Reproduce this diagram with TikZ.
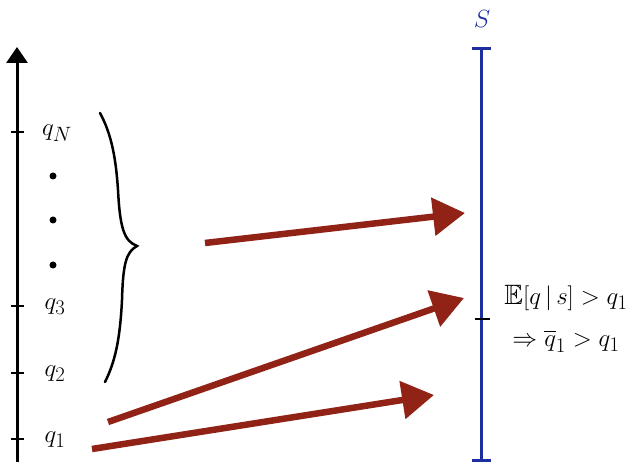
\documentclass[tikz,border=0pt]{standalone}
\usepackage{amssymb}
\usetikzlibrary{arrows.meta}
\definecolor{redarrow}{RGB}{145,34,22}
\definecolor{blueaxis}{RGB}{30,45,160}
\tikzset{
  axisline/.style={line width=3pt, black},
  tickmark/.style={line width=2.5pt, black},
  bigarrow/.style={line width=6.5pt, redarrow, -{Triangle[length=32pt,width=37pt]}},
  lab/.style={font=\fontsize{28}{32}\selectfont, inner sep=0pt},
  dotmark/.style={circle, fill=black, inner sep=0pt, minimum size=7pt}
}
\begin{document}
\begin{tikzpicture}[x=1pt,y=-1pt]
\useasboundingbox (0,0) rectangle (634,462);
% left axis
\coordinate (axbot) at (17,465);
\coordinate (axtop) at (17,47);
\draw[axisline, -{Triangle[length=16pt,width=21pt]}] (axbot) -- (axtop);
\foreach \y/\n in {132/N,306/3,373/2,439/1}{
  \coordinate (t\n l) at (11,\y);
  \coordinate (t\n r) at (24,\y);
  \draw[tickmark] (t\n l) -- (t\n r);
}
\node[lab] (qN) at (57,133) {$q_N$};
\node[lab] (q3) at (55,307) {$q_3$};
\node[lab] (q2) at (55,374) {$q_2$};
\node[lab] (q1) at (55,440) {$q_1$};
\node[dotmark] (d1) at (53,176) {};
\node[dotmark] (d2) at (53,220) {};
\node[dotmark] (d3) at (53,265) {};
% brace
\draw[line width=2.5pt, line cap=round] (100,113) .. controls (112,135) and (116,160) .. (118,190)
  .. controls (120,228) and (124,241) .. (137,246)
  .. controls (126,252) and (123,264) .. (122,300)
  .. controls (120,340) and (115,362) .. (105,382);
% blue axis
\coordinate (btop) at (481,49);
\coordinate (bbot) at (481,460);
\draw[line width=3pt, blueaxis] (btop) -- (bbot);
\draw[line width=3pt, blueaxis] (472,49) -- (491,49);
\draw[line width=3pt, blueaxis] (472,460) -- (491,460);
\draw[tickmark] (475,319) -- (490,319);
\node[lab, text=blueaxis] (S) at (482,19) {$S$};
\node[lab] (l1) at (566,298) {$\mathbb{E}[q\,|\,s] > q_1$};
\node[lab] (l2) at (566,341) {$\Rightarrow \overline{q}_1 > q_1$};
% red arrows
\coordinate (a1s) at (205,243);
\coordinate (a1e) at (465,213);
\coordinate (a2s) at (108,422);
\coordinate (a2e) at (464,298);
\coordinate (a3s) at (92,449);
\coordinate (a3e) at (434,395);
\draw[bigarrow] (a1s) -- (a1e);
\draw[bigarrow] (a2s) -- (a2e);
\draw[bigarrow] (a3s) -- (a3e);
\end{tikzpicture}
\end{document}
